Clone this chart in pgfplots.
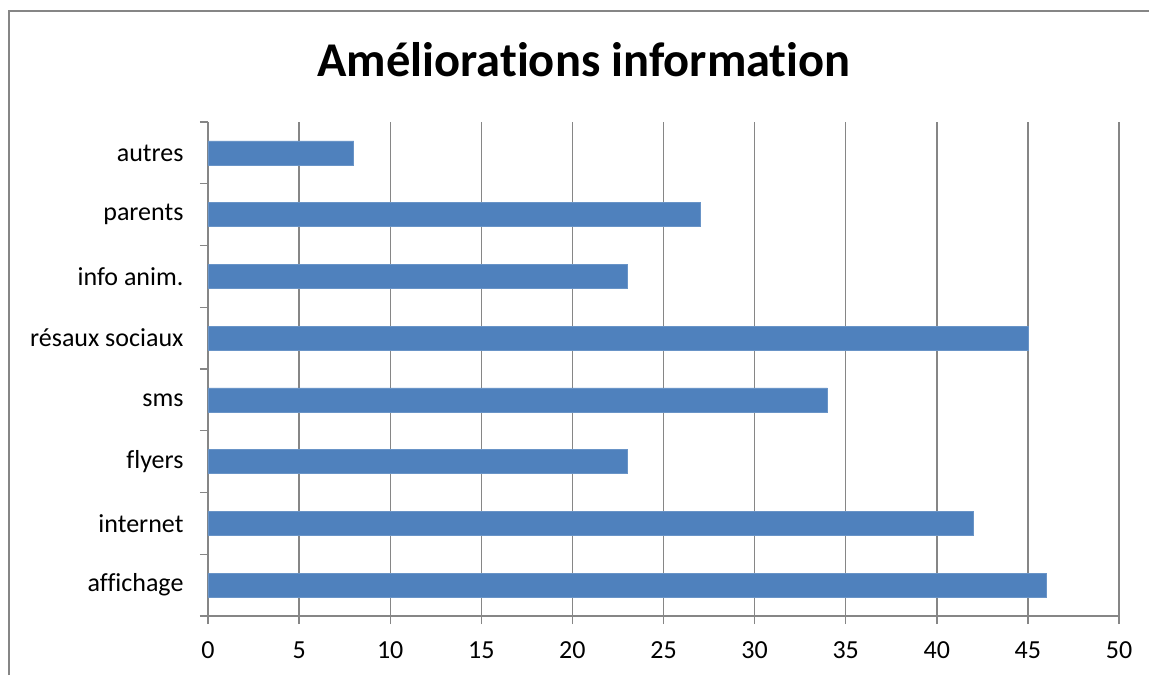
\documentclass[border=0pt]{standalone}
\usepackage{fontspec}
\setmainfont{Carlito}[Ligatures={NoCommon}]
\usepackage{pgfplots}
\pgfplotsset{compat=1.18}
\definecolor{barblue}{RGB}{79,129,189}
\definecolor{gridgray}{RGB}{134,134,134}
\begin{document}
\begin{tikzpicture}[x=1pt,y=1pt]
\draw[gridgray, line width=1.4pt] (9,0) -- (9,664) -- (1149,664);
\node[font=\bfseries\fontsize{48.5}{58}\selectfont, anchor=base] at (584,598) {Améliorations information};
\begin{axis}[
  at={(208pt,59pt)}, anchor=south west,
  scale only axis, width=911pt, height=494pt,
  xmin=0, xmax=50, ymin=-0.5, ymax=7.5,
  xbar, bar width=24pt,
  xtick={0,5,10,15,20,25,30,35,40,45,50},
  ytick={-0.5,0.5,1.5,2.5,3.5,4.5,5.5,6.5,7.5},
  y tick label as interval,
  yticklabels={affichage,internet,flyers,sms,résaux sociaux,info anim.,parents,autres},
  axis x line*=bottom, axis y line*=left,
  axis line style={gridgray, line width=1.4pt, -},
  xmajorgrids, grid style={gridgray, line width=1.4pt},
  tick align=outside, major tick length=8pt,
  tick style={gridgray, line width=1.4pt},
  ticklabel style={font=\fontsize{26}{31}\selectfont, black},
  xticklabel style={yshift=-14pt},
  yticklabel style={xshift=-13pt},
  /pgf/number format/assume math mode=true,
]
\addplot[fill=barblue, draw=barblue!85!white, line width=0.6pt] coordinates {(46,0) (42,1) (23,2) (34,3) (45,4) (23,5) (27,6) (8,7)};
\end{axis}
\pgfresetboundingbox
\path[use as bounding box] (0,0) rectangle (1149,675);
\end{tikzpicture}
\end{document}
